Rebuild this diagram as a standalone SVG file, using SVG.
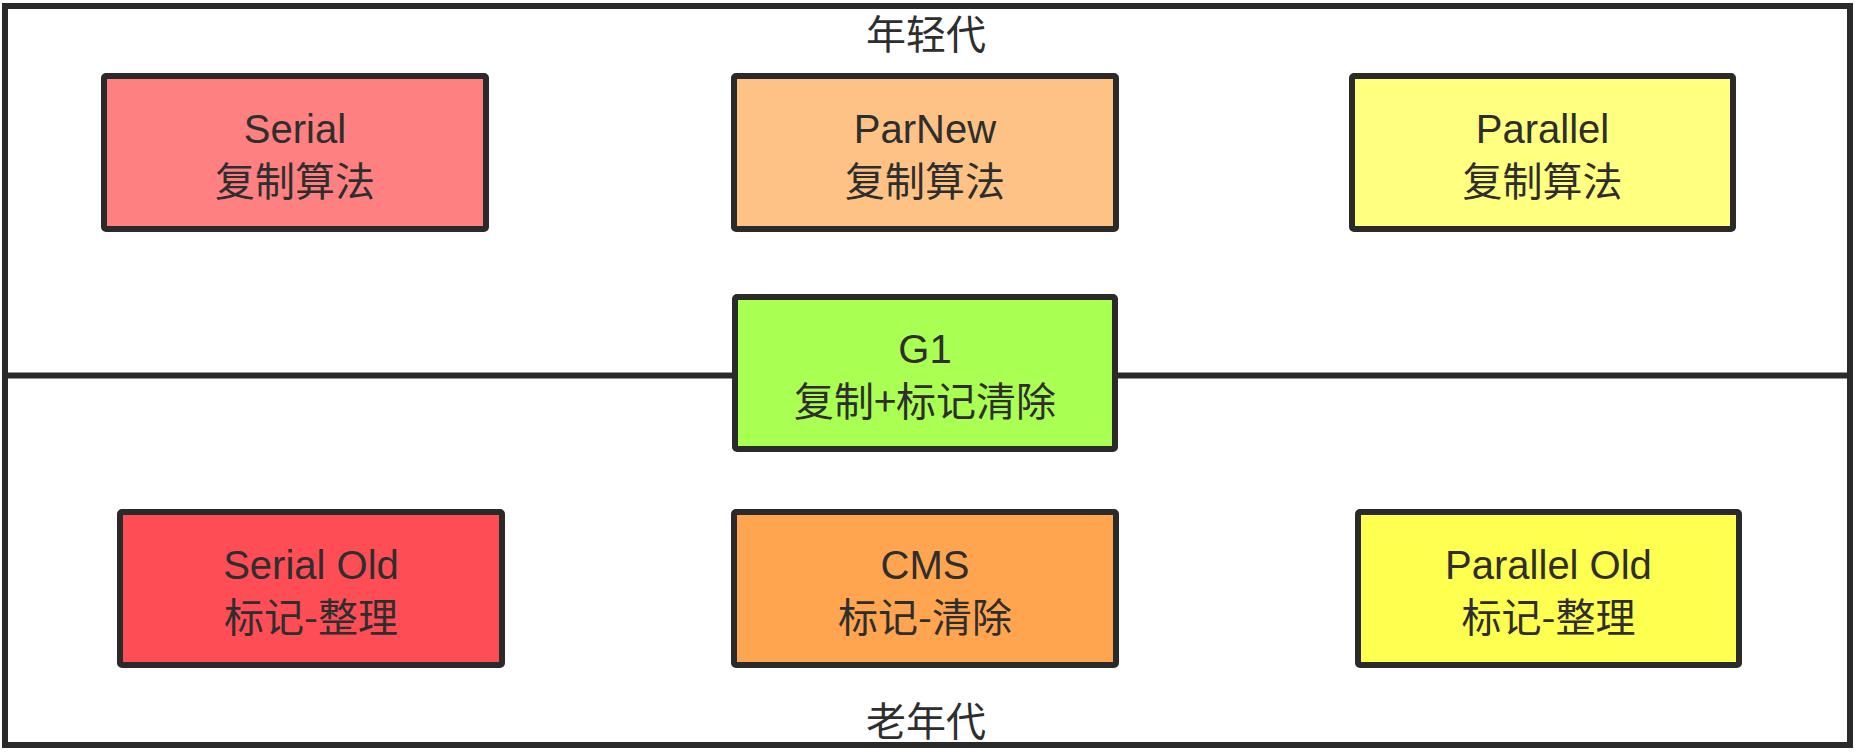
<svg xmlns="http://www.w3.org/2000/svg" width="1862" height="753" viewBox="0 0 1862 753">
<style>
.frame{fill:#ffffff;stroke:#2a2a2a;stroke-width:6}
.div{stroke:#2a2a2a;stroke-width:6}
.box{stroke:#2a2a2a;stroke-width:6}
text{font-family:"Liberation Sans","Noto Sans CJK SC",sans-serif;font-size:40px;fill:#2e2e2e;text-anchor:middle}
.zh{font-family:"Noto Sans CJK SC","Liberation Sans",sans-serif}
</style>
<rect width="1862" height="753" fill="#ffffff"/>
<g id="frame">
<rect class="frame" x="5" y="6" width="1845" height="739"/>
<line class="div" x1="5" y1="375.5" x2="1850" y2="375.5"/>
<text class="zh" x="926" y="49">年轻代</text>
<text class="zh" x="926" y="736">老年代</text>
</g>
<g id="serial">
<rect class="box" x="104" y="76" width="382" height="153" rx="2" fill="#FF8080"/>
<text x="295" y="142.5">Serial</text>
<text class="zh" x="295" y="195.5">复制算法</text>
</g>
<g id="parnew">
<rect class="box" x="734" y="76" width="382" height="153" rx="2" fill="#FFC285"/>
<text x="925" y="142.5">ParNew</text>
<text class="zh" x="925" y="195.5">复制算法</text>
</g>
<g id="parallel">
<rect class="box" x="1352" y="76" width="381" height="153" rx="2" fill="#FFFF80"/>
<text x="1542.5" y="142.5">Parallel</text>
<text class="zh" x="1542.5" y="195.5">复制算法</text>
</g>
<g id="g1">
<rect class="box" x="735" y="297" width="380" height="152" rx="2" fill="#A9FF52"/>
<text x="925" y="363">G1</text>
<text class="zh" x="925" y="416">复制+标记清除</text>
</g>
<g id="serial-old">
<rect class="box" x="120" y="512" width="382" height="153" rx="2" fill="#FF4D55"/>
<text x="311" y="578.5">Serial Old</text>
<text class="zh" x="311" y="631.5">标记-整理</text>
</g>
<g id="cms">
<rect class="box" x="734" y="512" width="382" height="153" rx="2" fill="#FFA54F"/>
<text x="925" y="578.5">CMS</text>
<text class="zh" x="925" y="631.5">标记-清除</text>
</g>
<g id="parallel-old">
<rect class="box" x="1358" y="512" width="381" height="153" rx="2" fill="#FFFF4F"/>
<text x="1548.5" y="578.5">Parallel Old</text>
<text class="zh" x="1548.5" y="631.5">标记-整理</text>
</g>
</svg>
